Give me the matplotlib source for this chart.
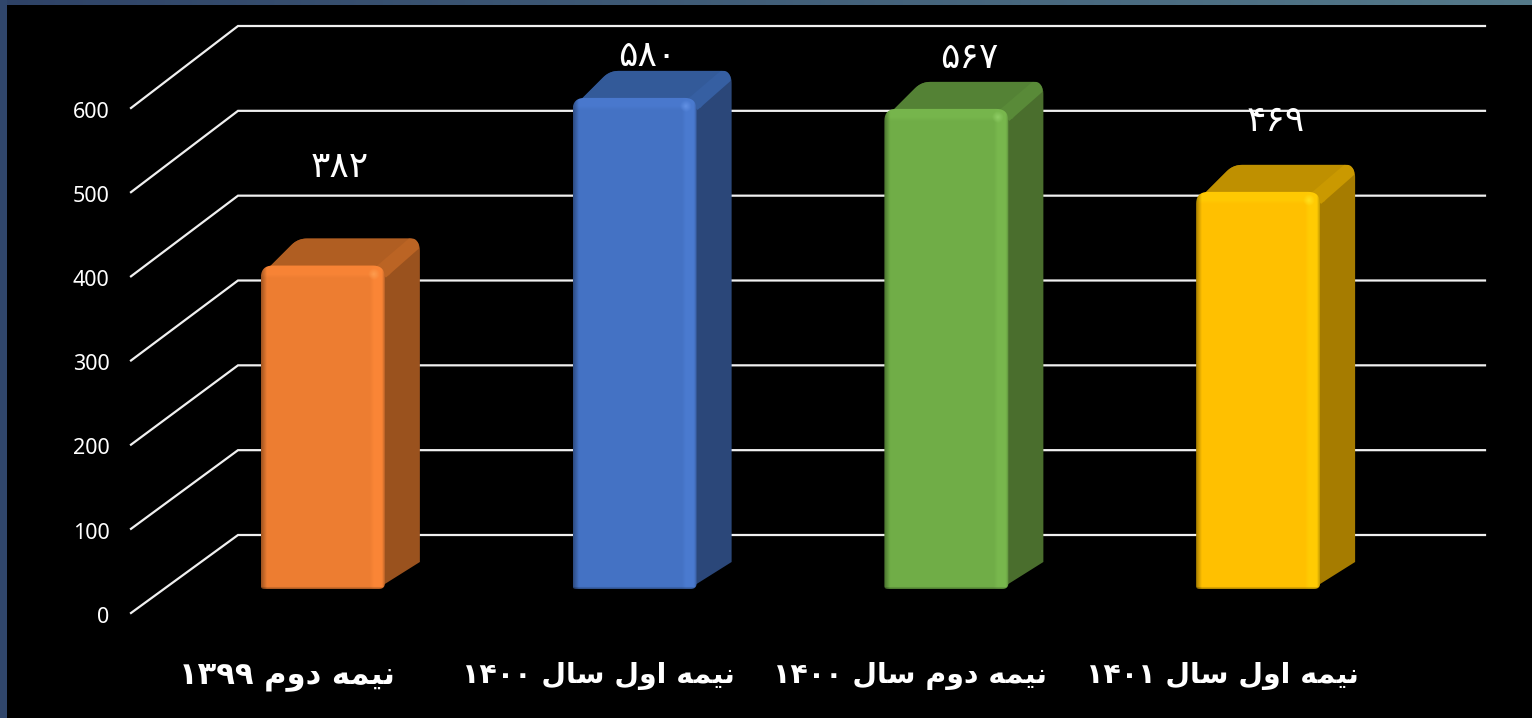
import numpy as np
import matplotlib
matplotlib.use("Agg")
import matplotlib.pyplot as plt
from matplotlib.patches import Polygon, PathPatch
from matplotlib.path import Path
from matplotlib.colors import to_rgb
from matplotlib.transforms import ScaledTranslation

# ---- data ----
categories = ["نیمه دوم ۱۳۹۹", "نیمه اول سال ۱۴۰۰", "نیمه دوم سال ۱۴۰۰", "نیمه اول سال ۱۴۰۱"]
values = [382, 580, 567, 469]
y_ticks = [0, 100, 200, 300, 400, 500, 600]
front_colors = ["#ED7D31", "#4472C4", "#70AD47", "#FFC000"]
top_colors = ["#B05E22", "#335A99", "#548235", "#BF9000"]
side_colors = ["#9A521E", "#2B4779", "#4A6E2D", "#A67C00"]
label_offsets_px = [(53, 124), (49, 69), (59, 78), (54, 97)]
category_sizes = [22, 20.4, 20.4, 20.4]

W, H = 1532, 718
# ---- simple Persian shaping (matplotlib does not shape Arabic script) ----
FORMS = {  # isolated, final, initial, medial
    "ن": "\uFEE5\uFEE6\uFEE7\uFEE8", "ی": "\uFBFC\uFBFD\uFEF3\uFEF4",
    "م": "\uFEE1\uFEE2\uFEE3\uFEE4", "ه": "\uFEE9\uFEEA\uFEEB\uFEEC",
    "س": "\uFEB1\uFEB2\uFEB3\uFEB4", "ل": "\uFEDD\uFEDE\uFEDF\uFEE0",
    "د": "\uFEA9\uFEAA", "و": "\uFEED\uFEEE", "ا": "\uFE8D\uFE8E",
}
def shape_word(w):
    if w[0] not in FORMS:
        return w
    out = []
    for i, c in enumerate(w):
        f = FORMS[c]
        prev = i > 0 and len(FORMS[w[i - 1]]) == 4
        nxt = i < len(w) - 1 and len(f) == 4
        idx = (3 if nxt else 1) if prev else (2 if nxt else 0)
        out.append(f[idx])
    return "".join(reversed(out))
def shape(s):
    return " ".join(shape_word(w) for w in reversed(s.split(" ")))
def fa(n):
    return str(n).translate(str.maketrans("0123456789", "۰۱۲۳۴۵۶۷۸۹"))

fig = plt.figure(figsize=(W / 100, H / 100), dpi=100, facecolor="black")

# ---- slide background ----
bg = fig.add_axes([0, 0, 1, 1], zorder=-1)
grad = np.zeros((H, W, 3))
t = np.linspace(0, 1, W)[:, None]
c0, c1 = np.array(to_rgb("#2E4266")), np.array(to_rgb("#557A8A"))
grad[:5, :, :] = (c0 + (c1 - c0) * t)[None, :, :]
grad[:, :7, :] = to_rgb("#30466B")
bg.imshow(grad, aspect="auto", interpolation="nearest")
bg.axis("off")

# ---- main axes: the front edge of the wall ----
ax = fig.add_axes([131 / W, (H - 613) / H, 1247 / W, 505 / H])
ax.set_xlim(-0.5, 3.5)
ax.set_ylim(0, 600)
ax.patch.set_alpha(0)
for s in ax.spines.values():
    s.set_visible(False)
PX = 4 / 1247   # data x per pixel
PY = 600 / 505  # data y per pixel

ax.set_yticks(y_ticks)
ax.set_yticklabels([str(v) for v in y_ticks], family="Noto Sans", fontsize=15.5, color="white")
ax.tick_params(axis="y", length=0, pad=15.5)
down = ScaledTranslation(0, -1.3 / 72, fig.dpi_scale_trans)
for tick in ax.yaxis.get_major_ticks():
    tick.label1.set_transform(tick.label1.get_transform() + down)
ax.set_xticks(range(4))
ax.set_xticklabels([shape(c) for c in categories], family="DejaVu Sans", fontweight="bold",
                   fontsize=20.4, color="white")
for lab, size in zip(ax.get_xticklabels(), category_sizes):
    lab.set_fontsize(size)
ax.tick_params(axis="x", length=0, pad=35)

# ---- gridlines on floor/back wall ----
dx_wall, dy_wall = 107 * PX, 78 * PY
back_scale = 509 / 505
for v in y_ticks:
    yb = v * back_scale + dy_wall
    ax.plot([-0.5, -0.5 + dx_wall, 3.5 + dx_wall], [v, yb, yb],
            color="#F0F0F0", lw=1.6, clip_on=False, zorder=1, solid_joinstyle="miter")

# ---- bars ----
def rounded(verts, radii, n=10):
    """Rounded polygon; verts in data coords, radii in pixels."""
    pts = np.array([(x / PX, y / PY) for x, y in verts])
    out = []
    m = len(pts)
    for i in range(m):
        p, a, b = pts[i], pts[i - 1], pts[(i + 1) % m]
        r = radii[i]
        if r <= 0:
            out.append(p)
            continue
        u = (a - p) / np.linalg.norm(a - p)
        w = (b - p) / np.linalg.norm(b - p)
        for s in np.linspace(0, 1, n):
            q = (1 - s) ** 2 * (p + u * r) + 2 * s * (1 - s) * p + s ** 2 * (p + w * r)
            out.append(q)
    out = np.array(out)
    out[:, 0] *= PX
    out[:, 1] *= PY
    return out

def face_image(color, w, h):
    c = np.array(to_rgb(color))
    xx, yy = np.meshgrid(np.arange(w) + 0.5, np.arange(h) + 0.5)  # yy from top
    img = np.tile(c, (h, w, 1))
    light = np.clip(c * 1.04 + 0.012, 0, 1)
    # right vertical bevel
    m = np.clip((xx - (w - 15)) / 4, 0, 1)
    img = img * (1 - m[..., None]) + light * m[..., None]
    # top bevel
    m = np.clip((13 - yy) / 4, 0, 1) * 0.8
    img = img * (1 - m[..., None]) + light * m[..., None]
    # corner highlight
    d = np.hypot(xx - (w - 11), yy - 9)
    m = np.clip(1 - d / 6, 0, 1) * 0.55
    hi = np.clip(c + 0.2, 0, 1)
    img = img * (1 - m[..., None]) + hi * m[..., None]
    # darker rims
    dark = np.clip((6 - xx) / 6, 0, 1) * 0.35 + np.clip((3 - (w - xx)) / 3, 0, 1) * 0.25
    dark = dark + np.clip((2.5 - (h - yy)) / 2.5, 0, 1) * 0.35
    out = np.clip(img * (1 - np.clip(dark, 0, 1))[..., None], 0, 1)
    return (out * 255 + 0.5).astype(np.uint8)

shift_x, shift_y = 36 * PX, 24 * PY
bar_w = 124 * PX
depth_x, depth_y = 35 * PX, 27 * PY
bar_scale = 1.006
for i, val in enumerate(values):
    x0 = i + shift_x - bar_w / 2
    x1 = x0 + bar_w
    y0 = shift_y
    y1 = shift_y + val * bar_scale
    tx, ty = depth_x, depth_y
    # silhouette of side and top, in the side colour
    sil = [(x1 - 8 * PX, y0), (x1 + tx, y0 + ty), (x1 + tx, y1 + ty), (x0 + tx + 2 * PX, y1 + ty),
           (x0 + 5 * PX, y1 - 5 * PY), (x1 - 8 * PX, y1 - 5 * PY)]
    ax.add_patch(Polygon(rounded(sil, [0, 0, 12, 9, 0, 0]), closed=True, fc=side_colors[i], ec="none",
                         clip_on=False, zorder=2))
    # top face, up to the corner edge
    top = [(x0 + 5 * PX, y1 - 5 * PY), (x0 + tx + 2 * PX, y1 + ty), (x1 + tx - 4 * PX, y1 + ty),
           (x1 + 4 * PX, y1 - 10 * PY), (x1 - 8 * PX, y1 - 5 * PY)]
    ax.add_patch(Polygon(rounded(top, [0, 9, 6, 0, 0]), closed=True, fc=top_colors[i], ec="none",
                         clip_on=False, zorder=3))
    # lighter edge between top and side
    mid = np.clip(np.array(to_rgb(top_colors[i])) * 1.06, 0, 1)
    band = [(x1 - 10 * PX, y1 - 2 * PY), (x1 + tx - 11 * PX, y1 + ty), (x1 + tx - 5 * PX, y1 + ty),
            (x1 + tx - 1 * PX, y1 + ty - 5 * PY), (x1 + tx - 1 * PX, y1 + ty - 10 * PY), (x1 + 1 * PX, y1 - 12 * PY)]
    ax.add_patch(Polygon(rounded(band, [0, 0, 3, 3, 0, 0]), closed=True, fc=mid, ec="none",
                         clip_on=False, zorder=3.5))
    # front face
    px_w, px_h = 124, int(round((y1 - y0) / PY))
    f = rounded([(x0, y0), (x0, y1), (x1, y1), (x1, y0)], [3, 12, 12, 6])
    clip = PathPatch(Path(np.vstack([f, f[:1]])), transform=ax.transData, fc="none", ec="none")
    im = ax.imshow(face_image(front_colors[i], px_w, px_h), extent=(x0, x1, y0, y1),
                   origin="upper", aspect="auto", interpolation="bilinear", zorder=4)
    im.set_clip_path(clip)
    im.set_clip_box(fig.bbox)

ax.set_xlim(-0.5, 3.5)
ax.set_ylim(0, 600)

# ---- value labels ----
for i, val in enumerate(values):
    ox, oy = label_offsets_px[i]
    ax.text(i + ox * PX, val + oy * PY, fa(val), family="DejaVu Sans", fontsize=26, color="white",
            ha="center", va="center", zorder=6, clip_on=False)

fig.savefig("out.png", dpi=100, facecolor="black")
